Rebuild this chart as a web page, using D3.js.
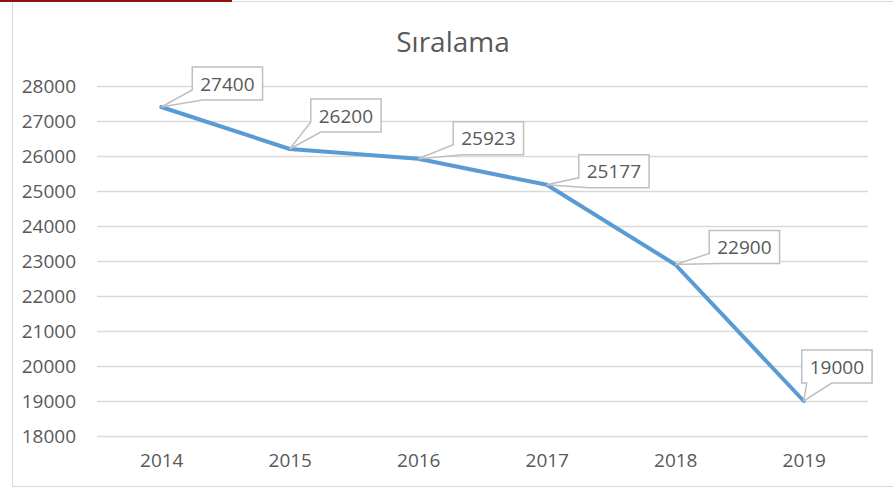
<!DOCTYPE html>
<html lang="tr">
<head>
    <meta charset="UTF-8">
    <script src="https://d3js.org/d3.v7.min.js" charset="utf-8"></script>
    <title>Sıralama</title>
    <style>
        body { margin: 0; background: #fff; }
        svg { display: block; font-family: "Open Sans", sans-serif; }
    </style>
</head>
<body>
    <div class="chart"></div>

    <script>
        const svgWidth = 893;
        const svgHeight = 488;

        // chart data
        const years = ["2014", "2015", "2016", "2017", "2018", "2019"];
        const ranks = [27400, 26200, 25923, 25177, 22900, 19000];
        const yTicks = [18000, 19000, 20000, 21000, 22000, 23000, 24000, 25000, 26000, 27000, 28000];
        const chartTitle = "Sıralama";

        // where each callout box sits relative to its point (left edge, bottom edge)
        const calloutNudge = [[31, -7], [21, -17], [35, -4], [32, 3], [34, -1], [-2, -18]];

        const svg = d3.select(".chart").append("svg")
            .attr("width", svgWidth)
            .attr("height", svgHeight);

        // chart area frame
        svg.append("rect")
            .attr("x", 12.5).attr("y", 1.5)
            .attr("width", 900).attr("height", 485)
            .attr("fill", "#fff")
            .attr("stroke", "#d9d9d9");

        // red strip at top-left
        svg.append("rect")
            .attr("x", 0).attr("y", 0)
            .attr("width", 232).attr("height", 2)
            .attr("fill", "#8e1212");

        const x = d3.scalePoint()
            .domain(years)
            .range([97, 868])
            .padding(0.5);

        const y = d3.scaleLinear()
            .domain([18000, 28000])
            .range([436, 86]);

        // title
        svg.append("text")
            .attr("x", 453).attr("y", 52)
            .attr("text-anchor", "middle")
            .attr("font-size", 28)
            .attr("fill", "#595959")
            .text(chartTitle);

        // gridlines + y labels
        const yAxis = d3.axisLeft(y).tickValues(yTicks).tickSize(-(868 - 97)).tickPadding(21).tickFormat(d3.format("d"));
        const gy = svg.append("g").attr("transform", "translate(97,0)").call(yAxis);
        gy.select(".domain").remove();
        gy.selectAll(".tick line").attr("stroke", "#d9d9d9").attr("stroke-width", 1.5);
        gy.selectAll(".tick text").attr("fill", "#595959").attr("font-size", 19)
            .attr("font-family", "Open Sans, sans-serif");

        // x labels
        const xAxis = d3.axisBottom(x).tickSize(0).tickPadding(18);
        const gx = svg.append("g").attr("transform", "translate(0,436)").call(xAxis);
        gx.select(".domain").remove();
        gx.selectAll(".tick text").attr("fill", "#595959").attr("font-size", 19)
            .attr("font-family", "Open Sans, sans-serif");

        const points = years.map((yr, i) => ({ year: yr, value: ranks[i], nudge: calloutNudge[i] }));

        // line
        const line = d3.line().x(d => x(d.year)).y(d => y(d.value));
        svg.append("path")
            .datum(points)
            .attr("d", line)
            .attr("fill", "none")
            .attr("stroke", "#5b9bd5")
            .attr("stroke-width", 4)
            .attr("stroke-linejoin", "round")
            .attr("stroke-linecap", "round");

        // callout labels
        const boxH = 33;
        const labels = svg.append("g");
        points.forEach(d => {
            const px = x(d.year), py = y(d.value);
            const g = labels.append("g");
            const path = g.append("path");
            const txt = g.append("text")
                .attr("font-size", 19)
                .attr("fill", "#595959")
                .text(d3.format("d")(d.value));
            const w = txt.node().getComputedTextLength() + 16;
            const x0 = px + d.nudge[0], y1 = py + d.nudge[1], y0 = y1 - boxH, x1 = x0 + w;
            txt.attr("x", x0 + w / 2).attr("y", y0 + boxH / 2 + 7).attr("text-anchor", "middle");

            let p;
            if (px < x0) {
                // tail leaves from the lower-left corner
                p = `M${x0},${y0} L${x1},${y0} L${x1},${y1} L${x0 + 10},${y1} L${px},${py} L${x0},${y1 - 10} Z`;
            } else {
                // tail leaves from the bottom edge
                p = `M${x0},${y0} L${x1},${y0} L${x1},${y1} L${x0 + 30},${y1} L${px},${py} L${x0 + 5},${y1} L${x0},${y1} Z`;
            }
            path.attr("d", p)
                .attr("fill", "#fff")
                .attr("stroke", "#bfbfbf")
                .attr("stroke-width", 1.5)
                .attr("stroke-linejoin", "miter");
        });
    </script>
</body>
</html>
